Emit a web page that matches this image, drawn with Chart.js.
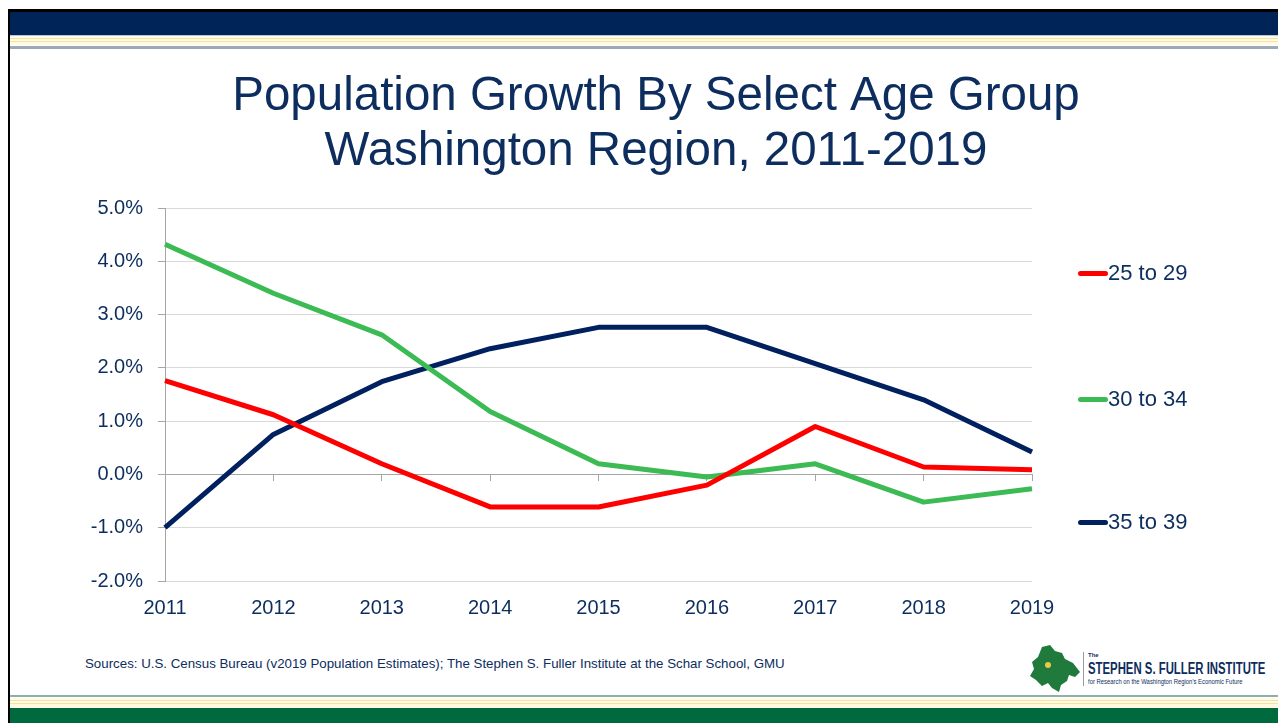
<!DOCTYPE html>
<html>
<head>
<meta charset="utf-8">
<script src="https://cdn.jsdelivr.net/npm/chart.js@4.4.1/dist/chart.umd.min.js"></script>
<style>
  html, body { margin: 0; padding: 0; width: 1278px; height: 723px; overflow: hidden; background: #fff; }
  body { position: relative; font-family: "Liberation Sans", Arial, sans-serif; }
  .frame-left { position: absolute; left: 8px; top: 9px; width: 2px; height: 714px; background: #000; }
  .top-black { position: absolute; left: 8px; top: 9px; right: 0; height: 3px; background: #000; }
  .top-navy { position: absolute; left: 10px; top: 12px; right: 0; height: 23px; background: #002458; }
  .top-stripes { position: absolute; left: 10px; top: 35px; right: 0; height: 14px;
    background: linear-gradient(to bottom, #b8c6d4 0 1px, #fffbe6 1px 3px, #f3e2a2 3px 4px, #fffbe6 4px 6px, #f3e2a2 6px 7px, #fffae0 7px 10px, #ffffff 10px 11px, #9aaab6 11px 14px); }
  .bot-stripes { position: absolute; left: 10px; top: 695px; right: 0; height: 13px;
    background: linear-gradient(to bottom, #8fb0a6 0 2px, #ffffff 2px 3px, #fffbe6 3px 5px, #f3e2a2 5px 6px, #fffbe6 6px 8px, #f3e2a2 8px 9px, #fffae0 9px 13px); }
  .bot-green { position: absolute; left: 10px; top: 708px; right: 0; height: 15px; background: #006a3f; }
  #chartBox { position: absolute; left: 34px; top: 50px; width: 1244px; height: 590px; }
  #legend { position: absolute; left: 1078px; top: 0; }
  .lg-item { position: absolute; left: 0; white-space: nowrap; display: flex; align-items: center;
    color: #0c2d5e; font-size: 22px; height: 26px; }
  .lg-line { width: 30px; height: 5px; border-radius: 3px; }
  .lg-item:nth-child(1) { top: 260px; }
  .lg-item:nth-child(2) { top: 386px; }
  .lg-item:nth-child(3) { top: 509px; }
  .source { position: absolute; left: 85px; top: 656px; font-size: 13.3px; color: #0c2d5e; white-space: nowrap; }
  .logo { position: absolute; left: 1028px; top: 644px; width: 245px; height: 50px; }
  .logo .sep { position: absolute; left: 55px; top: 8px; width: 1px; height: 34px; background: #9a9a9a; }
  .logo .the { position: absolute; left: 60px; top: 8px; font-size: 6px; font-weight: bold; color: #0c2d5e; }
  .logo .name { position: absolute; left: 60px; top: 16px; font-size: 16px; font-weight: bold; color: #0c2d5e;
    transform: scaleX(0.71); transform-origin: left top; white-space: nowrap; }
  .logo .sub { position: absolute; left: 60px; top: 34px; font-size: 7px; color: #0c2d5e; white-space: nowrap;
    transform: scaleX(0.84); transform-origin: left top; }
</style>
</head>
<body>
<div class="frame-left"></div>
<div class="top-black"></div>
<div class="top-navy"></div>
<div class="top-stripes"></div>
<div class="bot-stripes"></div>
<div class="bot-green"></div>

<div id="chartBox"><canvas id="popChart"></canvas></div>
<div id="legend"></div>

<div class="source">Sources: U.S. Census Bureau (v2019 Population Estimates); The Stephen S. Fuller Institute at the Schar School, GMU</div>

<div class="logo">
  <svg width="56" height="50" style="position:absolute;left:0;top:0">
    <polygon points="14,3 22,1 27,7 34,9 37,15 45,19 52,28 47,33 41,31 39,37 33,41 31,48 24,44 20,39 14,42 8,36 2,32 6,25 4,18 10,13" fill="#1f7a3c"/>
    <circle cx="20" cy="21" r="3" fill="#e9c84a"/>
  </svg>
  <div class="sep"></div>
  <div class="the">The</div>
  <div class="name">STEPHEN S. FULLER INSTITUTE</div>
  <div class="sub">for Research on the Washington Region's Economic Future</div>
</div>

<script>
const years = ['2011', '2012', '2013', '2014', '2015', '2016', '2017', '2018', '2019'];
const age25to29 = [1.76, 1.12, 0.20, -0.61, -0.61, -0.20, 0.90, 0.14, 0.09];
const age30to34 = [4.32, 3.40, 2.62, 1.18, 0.20, -0.05, 0.20, -0.52, -0.27];
const age35to39 = [-1.00, 0.75, 1.74, 2.36, 2.76, 2.76, 2.08, 1.40, 0.42];
const seriesLabels = ['25 to 29', '30 to 34', '35 to 39'];
const seriesColors = ['#ff0000', '#3cba54', '#002060'];
const yMin = -2, yMax = 5, yStep = 1;

const TEXT = '#0c2d5e';
const FONT = '"Liberation Sans", Arial, sans-serif';

const seriesData = [age25to29, age30to34, age35to39];

const datasets = seriesData.map((d, i) => ({
  label: seriesLabels[i],
  data: d,
  borderColor: seriesColors[i],
  backgroundColor: seriesColors[i],
  borderWidth: 5,
  pointRadius: 0,
  tension: 0,
  fill: false,
  borderJoinStyle: 'round',
  xAxisID: 'x',
}));

// legend spread down the right side, built from the same series lists
const legendEl = document.getElementById('legend');
seriesLabels.forEach((lab, i) => {
  const item = document.createElement('div');
  item.className = 'lg-item';
  const line = document.createElement('span');
  line.className = 'lg-line';
  line.style.background = seriesColors[i];
  const txt = document.createElement('span');
  txt.textContent = lab;
  item.appendChild(line);
  item.appendChild(txt);
  legendEl.appendChild(item);
});

const ctx = document.getElementById('popChart').getContext('2d');
new Chart(ctx, {
  type: 'line',
  data: { labels: years, datasets },
  options: {
    responsive: true,
    maintainAspectRatio: false,
    animation: false,
    layout: { padding: { left: 0, right: 0, top: 0, bottom: 5 } },
    plugins: {
      legend: { display: false },
      tooltip: { enabled: false },
      title: {
        display: true,
        text: ['Population Growth By Select Age Group', 'Washington Region, 2011-2019'],
        color: TEXT,
        font: { family: FONT, size: 47.5, weight: 'normal', lineHeight: 1.158 },
        padding: { top: 19, bottom: 29 },
      },
    },
    scales: {
      x: {
        type: 'category',
        offset: false,
        grid: { display: false, drawTicks: false },
        border: { display: false },
        ticks: { color: TEXT, font: { family: FONT, size: 20 }, padding: 15, maxRotation: 0 },
      },
      x0: {
        type: 'category',
        labels: years,
        position: { y: 0 },
        offset: false,
        grid: { drawOnChartArea: false, drawTicks: true, tickLength: 6, tickColor: '#a6a6a6', tickWidth: 1 },
        border: { display: true, color: '#a6a6a6', width: 1 },
        ticks: { display: false },
      },
      y: {
        min: yMin,
        max: yMax,
        ticks: {
          stepSize: yStep,
          color: TEXT,
          font: { family: FONT, size: 20 },
          padding: 15,
          callback: v => v.toFixed(1) + '%',
        },
        grid: { color: '#d9d9d9', lineWidth: 1, drawTicks: true, tickLength: 7, tickColor: '#a6a6a6' },
        border: { display: true, color: '#a6a6a6', width: 1 },
        afterFit(scale) { scale.width = 131; },
      },
      // empty right-hand band where the legend sits
      yR: {
        position: 'right',
        grid: { display: false, drawTicks: false },
        border: { display: false },
        ticks: { display: false },
        afterFit(scale) { scale.width = 246; },
      },
    },
  },
});
</script>
</body>
</html>
